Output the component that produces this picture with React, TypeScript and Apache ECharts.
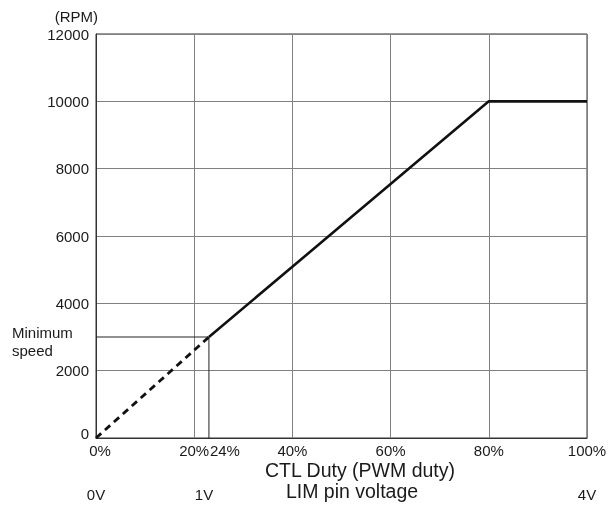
import React, { useEffect, useRef } from "react";
import * as echarts from "echarts";

const dashedSegment: [number, number][] = [[0, 0], [23, 3000]];
const solidSegment: [number, number][] = [[23, 3000], [80, 10000], [100, 10000]];
const minSpeedGuide: [number, number][] = [[0, 3000], [23, 3000], [23, 0]];
const extraTickPos = [23];
const extraTickLabels = ["24%"];
const voltPos = [0, 22, 100];
const voltLabels = ["0V", "1V", "4V"];

const FONT = "'Liberation Sans', Arial, sans-serif";
const TXT = "#1a1a1a";

export default function App() {
  const ref = useRef<HTMLDivElement>(null);
  useEffect(() => {
    if (!ref.current) return;
    const chart = echarts.init(ref.current, null, { renderer: "svg" });
    chart.setOption({
      animation: false,
      textStyle: { fontFamily: FONT, color: TXT },
      grid: { left: 96, right: 23, top: 34, bottom: 73, show: true, borderColor: "#333", borderWidth: 1 },
      xAxis: {
        type: "value",
        min: 0,
        max: 100,
        interval: 20,
        axisLine: { show: true, lineStyle: { color: "#333", width: 1 } },
        axisTick: { show: false },
        splitLine: { show: true, lineStyle: { color: "#808080", width: 1 } },
        axisLabel: {
          formatter: (v: number) => (v === 0 ? `{z|${v}%}` : `${v}%`),
          rich: { z: { fontSize: 15, color: TXT, fontFamily: FONT, padding: [0, 0, 0, 8] } },
          fontSize: 15, color: TXT, margin: 5, fontFamily: FONT,
        },
      },
      yAxis: {
        type: "value",
        min: 0,
        max: 12000,
        interval: 2000,
        axisLine: { show: true, lineStyle: { color: "#333", width: 1 } },
        axisTick: { show: false },
        splitLine: { show: true, lineStyle: { color: "#808080", width: 1 } },
        axisLabel: {
          formatter: (v: number) => (v === 0 ? `{z|${v}}` : String(v)),
          rich: { z: { fontSize: 15, color: TXT, fontFamily: FONT, padding: [0, 0, 10, 0] } },
          fontSize: 15, color: TXT, margin: 7, fontFamily: FONT,
        },
        name: "(RPM)",
        nameLocation: "end",
        nameGap: 10,
        nameTextStyle: { fontSize: 15, color: TXT, align: "right", padding: [0, -2, 0, 0], fontFamily: FONT },
      },
      graphic: [
        { type: "text", left: 12, top: 323, style: { text: "Minimum\nspeed", fontSize: 15, lineHeight: 18, fill: TXT, fontFamily: FONT } },
        { type: "text", x: 360, y: 469.5, style: { text: "CTL Duty (PWM duty)", fontSize: 19.5, fill: TXT, align: "center", verticalAlign: "middle", fontFamily: FONT } },
        { type: "text", x: 352, y: 490.5, style: { text: "LIM pin voltage", fontSize: 19.5, fill: TXT, align: "center", verticalAlign: "middle", fontFamily: FONT } },
      ],
      series: [
        {
          type: "line",
          data: minSpeedGuide,
          symbol: "none",
          lineStyle: { color: "#222", width: 1 },
          z: 3,
        },
        {
          type: "line",
          data: dashedSegment,
          symbol: "none",
          lineStyle: { color: "#111", width: 2.8, type: [7, 5] },
          z: 4,
        },
        {
          type: "line",
          data: solidSegment,
          symbol: "none",
          lineStyle: { color: "#111", width: 2.6 },
          z: 5,
        },
        {
          type: "scatter",
          symbolSize: 0,
          itemStyle: { opacity: 1 },
          data: extraTickPos.map((x, i) => ({ value: [x, 0], name: extraTickLabels[i] })),
          label: { show: true, opacity: 1, formatter: (p: any) => p.name, position: "bottom", distance: 5, align: "left", offset: [1, 0], fontSize: 15, color: TXT, fontFamily: FONT },
          silent: true,
        },
        {
          type: "scatter",
          symbolSize: 0,
          itemStyle: { opacity: 1 },
          data: voltPos.map((x, i) => ({ value: [x, 0], name: voltLabels[i] })),
          label: { show: true, opacity: 1, formatter: (p: any) => p.name, position: "bottom", distance: 49, fontSize: 15, color: TXT, fontFamily: FONT },
          silent: true,
        },
      ],
    });
    return () => chart.dispose();
  }, []);
  return <div ref={ref} style={{ position: "fixed", left: 0, top: 0, width: 610, height: 511 }} />;
}
